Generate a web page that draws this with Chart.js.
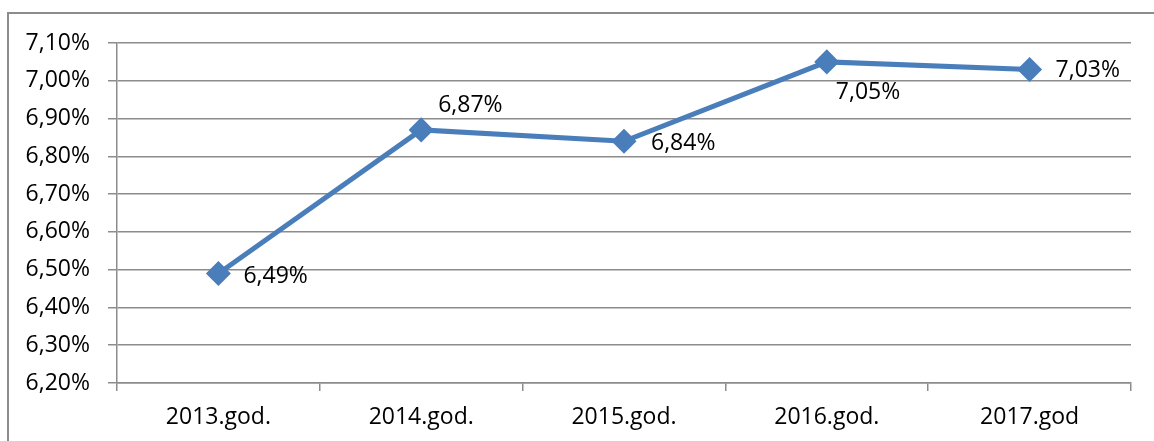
<!DOCTYPE html>
<html>
<head>
<meta charset="utf-8">
<script src="https://cdn.jsdelivr.net/npm/chart.js@4.4.1/dist/chart.umd.min.js"></script>
<style>
  html, body { margin: 0; padding: 0; background: #fff; }
  #wrap { position: relative; width: 1154px; height: 441px; overflow: hidden; }
  #frame { position: absolute; left: 7px; top: 12px; width: 1200px; height: 500px; border-left: 2px solid #8c8c8c; border-top: 2px solid #8c8c8c; }
  canvas { position: absolute; left: 0; top: 0; }
</style>
</head>
<body>
<div id="wrap">
  <div id="frame"></div>
  <canvas id="chart" width="1154" height="441"></canvas>
</div>
<script>
const categories = ['2013.god.', '2014.god.', '2015.god.', '2016.god.', '2017.god'];
const values = [6.49, 6.87, 6.84, 7.05, 7.03];
const yMin = 6.2;
const yMax = 7.1;
const yStep = 0.1;

// where each value label sits relative to its point
const labelOffsets = [[25, 3], [17, -24], [27, 2], [9, 31], [26, 1]];

const fontFamily = '"Open Sans", "Noto Sans", sans-serif';
const fmt = v => v.toFixed(2).replace('.', ',') + '%';

const valueLabels = {
  id: 'valueLabels',
  afterDatasetsDraw(chart) {
    const ctx = chart.ctx;
    const meta = chart.getDatasetMeta(0);
    ctx.save();
    ctx.font = '23px ' + fontFamily;
    ctx.fillStyle = '#000';
    ctx.textAlign = 'left';
    ctx.textBaseline = 'middle';
    meta.data.forEach((pt, i) => {
      const off = labelOffsets[i];
      ctx.fillText(fmt(values[i]), pt.x + off[0], pt.y + off[1]);
    });
    ctx.restore();
  }
};

new Chart(document.getElementById('chart'), {
  type: 'line',
  data: {
    labels: categories,
    datasets: [{
      data: values,
      borderColor: '#4a7ebb',
      backgroundColor: '#4a7ebb',
      borderWidth: 5,
      pointStyle: 'rectRot',
      pointRadius: 9,
      pointHoverRadius: 9,
      tension: 0
    }]
  },
  options: {
    responsive: false,
    animation: false,
    events: [],
    layout: {padding: {top: 43, right: 23, bottom: 0, left: 0}},
    plugins: {
      legend: {display: false},
      tooltip: {enabled: false}
    },
    scales: {
      x: {
        offset: true,
        afterFit(scale) { scale.height = 58; },
        grid: {
          display: true,
          offset: true,
          drawOnChartArea: false,
          tickLength: 8,
          color: '#8c8c8c',
          lineWidth: 1.5
        },
        border: {color: '#8c8c8c', width: 1.5},
        ticks: {
          color: '#000',
          padding: 13,
          font: {family: fontFamily, size: 23}
        }
      },
      y: {
        min: yMin,
        max: yMax,
        afterFit(scale) { scale.width = 117; },
        grid: {
          color: '#8c8c8c',
          lineWidth: 1.5,
          tickLength: 9
        },
        border: {color: '#8c8c8c', width: 1.5},
        ticks: {
          stepSize: yStep,
          color: '#000',
          padding: 18,
          font: {family: fontFamily, size: 23},
          callback: v => fmt(v)
        }
      }
    }
  },
  plugins: [valueLabels]
});
</script>
</body>
</html>
